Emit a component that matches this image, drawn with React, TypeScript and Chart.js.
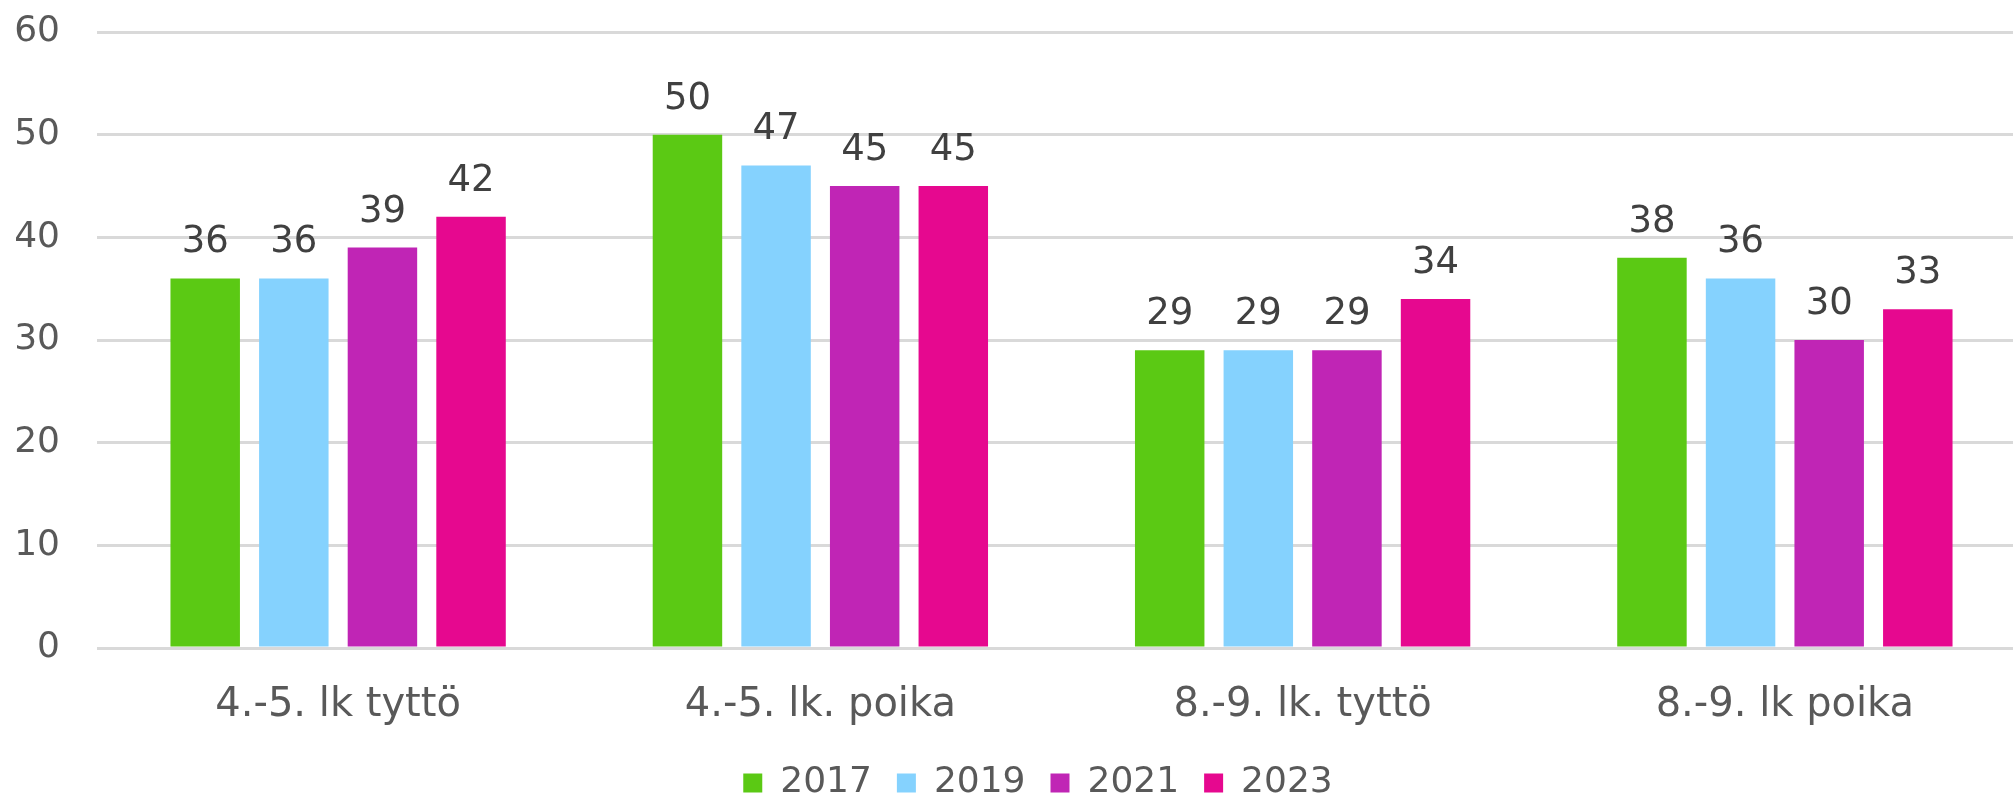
import React, { useEffect, useRef } from "react";
import { Chart, registerables } from "chart.js";

Chart.register(...registerables);

const categories = ["4.-5. lk tyttö", "4.-5. lk. poika", "8.-9. lk. tyttö", "8.-9. lk poika"];
const years = ["2017", "2019", "2021", "2023"];
const values2017 = [36, 50, 29, 38];
const values2019 = [36, 47, 29, 36];
const values2021 = [39, 45, 29, 30];
const values2023 = [42, 45, 34, 33];
const colors = ["#5BC914", "#85D2FE", "#C025B5", "#E6088F"];
const yTicks = [0, 10, 20, 30, 40, 50, 60];

const FONT = "'DejaVu Sans', Verdana, sans-serif";

const valueLabels = {
  id: "valueLabels",
  afterDatasetsDraw(chart: any) {
    const ctx = chart.ctx;
    ctx.save();
    ctx.font = `37px ${FONT}`;
    ctx.fillStyle = "#404040";
    ctx.textAlign = "center";
    ctx.textBaseline = "alphabetic";
    chart.data.datasets.forEach((ds: any, i: number) => {
      const meta = chart.getDatasetMeta(i);
      meta.data.forEach((bar: any, j: number) => {
        ctx.fillText(String(ds.data[j]), bar.x, bar.y - 26);
      });
    });
    ctx.restore();
  },
};

const legendShift = {
  id: "legendShift",
  afterLayout(chart: any) {
    const l = chart.legend;
    if (l) {
      l.left += 18;
      l.right += 18;
    }
  },
};

export default function App() {
  const ref = useRef<HTMLCanvasElement | null>(null);
  useEffect(() => {
    if (!ref.current) return;
    const series = [values2017, values2019, values2021, values2023];
    const chart = new Chart(ref.current, {
      type: "bar",
      data: {
        labels: categories,
        datasets: years.map((y, i) => ({
          label: y,
          data: series[i],
          backgroundColor: colors[i],
          borderWidth: 0,
          categoryPercentage: 0.735,
          barPercentage: 0.784,
        })),
      },
      options: {
        animation: false,
        responsive: true,
        maintainAspectRatio: false,
        layout: { padding: { top: 32, left: 14, right: 0, bottom: 0 } },
        plugins: {
          legend: {
            position: "bottom",
            labels: {
              font: { family: FONT, size: 36 },
              color: "#595959",
              boxWidth: 19,
              boxHeight: 19,
              padding: 25,
            },
          },
          tooltip: { enabled: false },
        },
        scales: {
          x: {
            grid: { display: false, drawTicks: false },
            border: { display: false },
            ticks: {
              font: { family: FONT, size: 40 },
              color: "#595959",
              padding: 34,
            },
            afterFit(scale: any) {
              scale.height = 92;
            },
          },
          y: {
            min: 0,
            max: 60,
            afterBuildTicks(scale: any) {
              scale.ticks = yTicks.map((v) => ({ value: v }));
            },
            grid: { color: "#D9D9D9", lineWidth: 3, drawTicks: false },
            border: { display: false },
            ticks: {
              font: { family: FONT, size: 36 },
              color: "#595959",
              padding: 37,
            },
            afterFit(scale: any) {
              scale.width = 83;
              scale.paddingTop = 0;
              scale.paddingBottom = 0;
            },
          },
        },
      },
      plugins: [valueLabels, legendShift],
    });
    return () => chart.destroy();
  }, []);

  return (
    <div style={{ position: "fixed", left: 0, top: 0, width: 2013, height: 798, overflow: "hidden", background: "#fff" }}>
      <div style={{ position: "absolute", left: 0, top: 0, width: 2026, height: 811 }}>
        <canvas ref={ref} />
      </div>
    </div>
  );
}
